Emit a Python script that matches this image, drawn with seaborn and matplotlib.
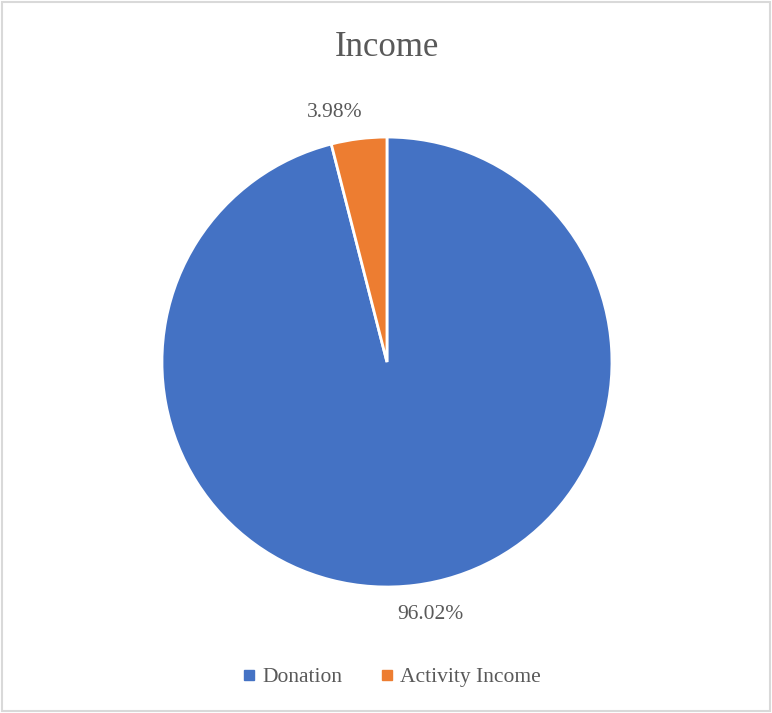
import matplotlib
matplotlib.use("Agg")
import matplotlib.pyplot as plt
from matplotlib.lines import Line2D
from matplotlib.patches import Rectangle
import seaborn as sns

# data
categories = ["Donation", "Activity Income"]
shares = [96.02, 3.98]
title = "Income"

sns.set_theme(style="white")
plt.rcParams['font.family'] = ['Liberation Serif', 'DejaVu Serif']
colors = ["#4472C4", "#ED7D31"]
text_gray = "#595959"

fig = plt.figure(figsize=(7.72, 7.13), dpi=100)
fig.patch.set_facecolor("white")

# light frame round the chart area
fig.patches.append(Rectangle((0.003, 0.003), 0.994, 0.994, transform=fig.transFigure,
                             fill=False, edgecolor="#D9D9D9", linewidth=1.5))

ax = fig.add_axes([0.2098, 0.1767, 0.5829, 0.6311])
wedges, texts, autotexts = ax.pie(
    shares, colors=colors, startangle=90, counterclock=False,
    autopct="%.2f%%", pctdistance=1.13, radius=1,
    wedgeprops=dict(edgecolor="white", linewidth=2),
    textprops=dict(color=text_gray, fontsize=15.5),
)
ax.set_xlim(-1, 1)
ax.set_ylim(-1, 1)
ax.set_aspect("auto")

# excel "best fit" puts the labels a bit off the slice middle
nudges = [(0.05, 0.0), (-0.09, -0.012)]
for t, (dx, dy) in zip(autotexts, nudges):
    x, y = t.get_position()
    t.set_position((x + dx, y + dy))

fig.text(0.501, 0.933, title, ha="center", va="center", fontsize=25, color=text_gray)

handles = [Line2D([], [], marker="s", linestyle="none", markersize=7,
                  markerfacecolor=c, markeredgecolor=c) for c in colors]
fig.legend(handles, categories, loc="center", bbox_to_anchor=(0.505, 0.05), ncol=2,
           frameon=False, fontsize=15.5, labelcolor=text_gray,
           handletextpad=0.1, columnspacing=1.6, handlelength=1.0)

fig.savefig("out.png", dpi=100, facecolor="white")
